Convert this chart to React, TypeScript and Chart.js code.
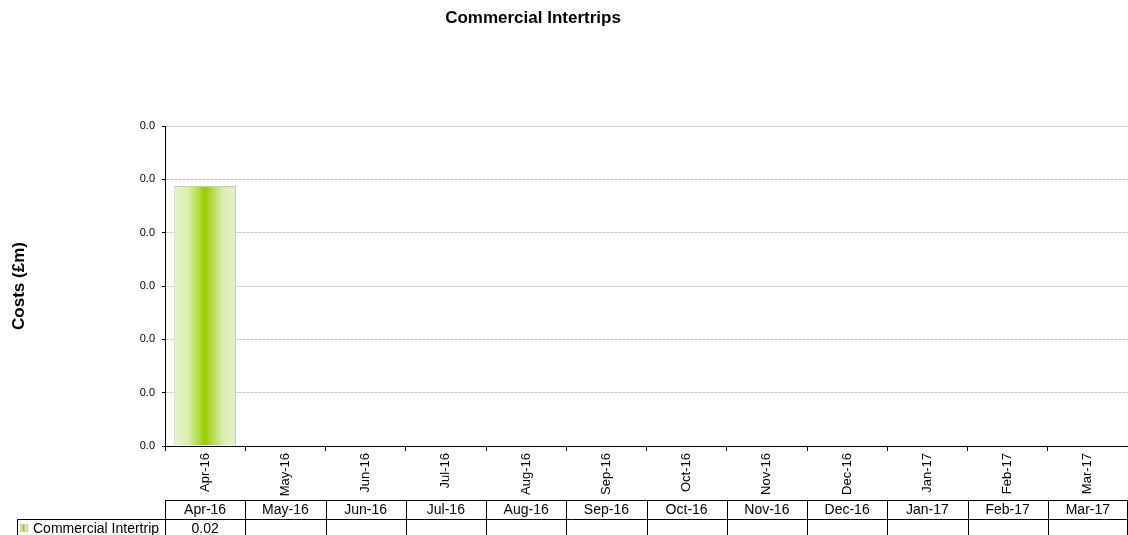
import React, { useEffect, useRef } from "react";
import { Chart, registerables } from "chart.js";

Chart.register(...registerables);

const TITLE = "Commercial Intertrips";
const Y_TITLE = "Costs (£m)";
const SERIES_NAME = "Commercial Intertrip";
const CATEGORIES = ["Apr-16", "May-16", "Jun-16", "Jul-16", "Aug-16", "Sep-16", "Oct-16", "Nov-16", "Dec-16", "Jan-17", "Feb-17", "Mar-17"];
const VALUES: (number | null)[] = [0.0195, null, null, null, null, null, null, null, null, null, null, null];
const Y_MIN = 0;
const Y_MAX = 0.024;
const Y_STEP = 0.004;

const FONT = "'Liberation Sans', Arial, sans-serif";
const BAR_PCT = 0.77;

function barGradient(c: CanvasRenderingContext2D, x0: number, x1: number) {
  const g = c.createLinearGradient(x0, 0, x1, 0);
  g.addColorStop(0, "#e9f4cf");
  g.addColorStop(0.22, "#dcedb0");
  g.addColorStop(0.4, "#addb3a");
  g.addColorStop(0.5, "#99cc00");
  g.addColorStop(0.62, "#b4dc50");
  g.addColorStop(0.8, "#dcedb4");
  g.addColorStop(1, "#e6f2cc");
  return g;
}

const titlePlugin = {
  id: "customTitle",
  afterDraw(chart: any) {
    const c = chart.ctx as CanvasRenderingContext2D;
    c.save();
    c.font = `bold 17px ${FONT}`;
    c.fillStyle = "#000";
    c.textAlign = "center";
    c.textBaseline = "middle";
    c.fillText(TITLE, 533, 18);
    c.restore();
  },
};

const tablePlugin = {
  id: "dataTable",
  afterDraw(chart: any) {
    const c = chart.ctx as CanvasRenderingContext2D;
    const xs = chart.scales.x;
    const area = chart.chartArea;
    const n = CATEGORIES.length;
    const cw = area.width / n;
    const top = area.bottom + 54;
    const rowH = 19;
    const mid = top + rowH;
    const bottom = mid + rowH;
    const legendLeft = 17;
    c.save();
    c.strokeStyle = "#000";
    c.lineWidth = 1;
    c.beginPath();
    c.moveTo(area.left, top + 0.5);
    c.lineTo(area.right, top + 0.5);
    c.moveTo(legendLeft, mid + 0.5);
    c.lineTo(area.right, mid + 0.5);
    c.moveTo(legendLeft + 0.5, mid);
    c.lineTo(legendLeft + 0.5, bottom);
    for (let i = 0; i <= n; i++) {
      let x = Math.round(area.left + i * cw) + 0.5;
      if (i === n) x = Math.min(x, area.right - 0.5);
      c.moveTo(x, top);
      c.lineTo(x, bottom);
    }
    c.moveTo(legendLeft, bottom + 0.5);
    c.lineTo(area.right, bottom + 0.5);
    c.stroke();

    c.font = `14px ${FONT}`;
    c.fillStyle = "#000";
    c.textAlign = "center";
    c.textBaseline = "middle";
    CATEGORIES.forEach((cat, i) => {
      const cx = xs.getPixelForValue(i);
      c.fillText(cat, cx, top + rowH / 2 + 1);
      const v = VALUES[i];
      if (v !== null && v !== undefined) {
        c.fillText(v.toFixed(2), cx, mid + rowH / 2 + 1);
      }
    });
    // legend marker
    c.fillStyle = barGradient(c, 20, 27);
    c.fillRect(20.5, mid + 5.5, 7, 7);
    c.strokeStyle = "#c8d0b0";
    c.strokeRect(20.5, mid + 5.5, 7, 7);
    c.fillStyle = "#000";
    c.textAlign = "left";
    c.fillText(SERIES_NAME, 33, mid + rowH / 2 + 1);
    c.restore();
  },
};

export default function App() {
  const ref = useRef<HTMLCanvasElement | null>(null);
  useEffect(() => {
    if (!ref.current) return;
    Chart.defaults.font.family = FONT;
    const chart = new Chart(ref.current, {
      type: "bar",
      data: {
        labels: CATEGORIES,
        datasets: [
          {
            label: SERIES_NAME,
            data: VALUES,
            barPercentage: BAR_PCT,
            categoryPercentage: 1,
            borderColor: "#c6cbb8",
            borderWidth: 1,
            backgroundColor: (ctx: any) => {
              const ch = ctx.chart;
              const area = ch.chartArea;
              const xs = ch.scales && ch.scales.x;
              if (!area || !xs || ctx.dataIndex === undefined) return "#99cc00";
              const cx = xs.getPixelForValue(ctx.dataIndex);
              const w = (area.width / CATEGORIES.length) * BAR_PCT;
              return barGradient(ch.ctx, cx - w / 2, cx + w / 2);
            },
          },
        ],
      },
      options: {
        animation: false,
        responsive: true,
        maintainAspectRatio: false,
        events: [],
        layout: { padding: { top: 126, right: 0, bottom: 0, left: 0 } },
        plugins: {
          legend: { display: false },
          title: { display: false },
          tooltip: { enabled: false },
        },
        scales: {
          x: {
            type: "category",
            grid: {
              display: true,
              drawOnChartArea: false,
              drawTicks: true,
              tickLength: 5,
              tickColor: "#000",
              color: "#000",
              offset: true,
            },
            border: { display: true, color: "#000", width: 1 },
            ticks: {
              autoSkip: false,
              maxRotation: 90,
              minRotation: 90,
              padding: 2,
              color: "#000",
              font: { size: 13, family: FONT },
            },
            afterFit: (scale: any) => {
              scale.height = 89;
            },
          },
          y: {
            min: Y_MIN,
            max: Y_MAX,
            ticks: {
              stepSize: Y_STEP,
              padding: 7,
              color: "#000",
              font: { size: 11, family: FONT },
              callback: (v: any) => Number(v).toFixed(1),
            },
            grid: {
              color: "#cccccc",
              lineWidth: 1,
              drawTicks: true,
              tickLength: 3,
              tickColor: "#000",
              tickBorderDash: [],
            },
            border: { display: true, color: "#000", width: 1, dash: [3, 1] },
            title: {
              display: true,
              text: Y_TITLE,
              color: "#000",
              font: { size: 17, weight: "bold", family: FONT },
              padding: { top: 9, bottom: 0 },
            },
            afterFit: (scale: any) => {
              scale.width = 165;
            },
          },
        },
      },
      plugins: [titlePlugin, tablePlugin],
    });
    return () => chart.destroy();
  }, []);
  return (
    <div style={{ position: "absolute", left: 0, top: 0, width: 1128, height: 535, background: "#fff" }}>
      <canvas ref={ref} />
    </div>
  );
}
